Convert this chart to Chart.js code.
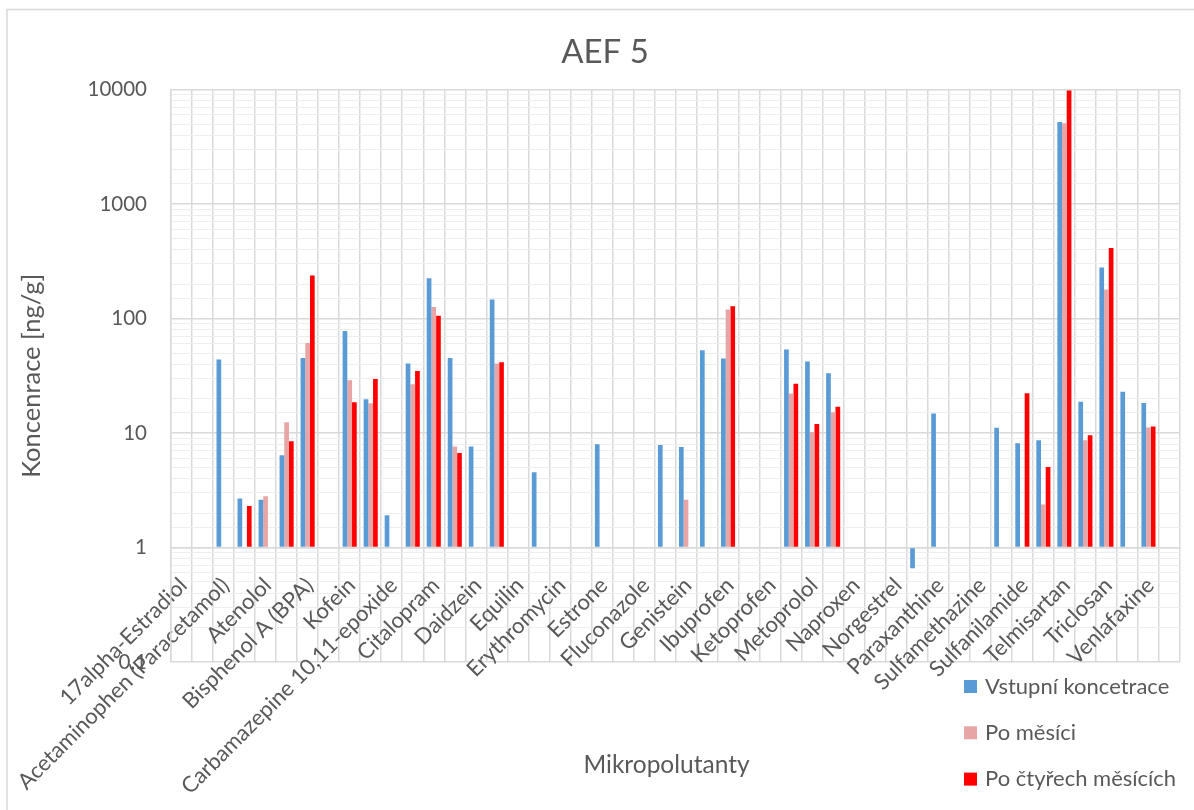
<!DOCTYPE html>
<html>
<head>
<meta charset="utf-8">
<script src="https://cdn.jsdelivr.net/npm/chart.js@4.4.1/dist/chart.umd.min.js"></script>
<style>
  body { margin: 0; background: #fff; }
  #wrap { position: relative; width: 1194px; height: 810px; }
</style>
</head>
<body>
<div id="wrap"><canvas id="chart"></canvas></div>
<script>
// every second category name is hidden in the original (labels skipped), kept empty here
const categories = [
    "17alpha-Estradiol", "", "Acetaminophen (Paracetamol)", "", "Atenolol", "",
    "Bisphenol A (BPA)", "", "Kofein", "", "Carbamazepine 10,11-epoxide", "",
    "Citalopram", "", "Daidzein", "", "Equilin", "", "Erythromycin", "",
    "Estrone", "", "Fluconazole", "", "Genistein", "", "Ibuprofen", "",
    "Ketoprofen", "", "Metoprolol", "", "Naproxen", "", "Norgestrel", "",
    "Paraxanthine", "", "Sulfamethazine", "", "Sulfanilamide", "",
    "Telmisartan", "", "Triclosan", "", "Venlafaxine", ""
];

const vstupni = [
    null, null, 43.8, 2.68, 2.62, 6.4, 45.3, null, 77.7, 19.7,
    1.91, 40.5, 225, 45.3, 7.62, 146.6, null, 4.55, null, null,
    7.98, null, null, 7.87, 7.56, 52.9, 44.8, null, null, 53.6,
    42.1, 33.3, null, null, null, 0.66, 14.8, null, null, 11.1,
    8.15, 8.65, 5210, 18.8, 279, 23.0, 18.3, null
];
const poMesici = [
    null, null, null, null, 2.81, 12.4, 61.2, null, 28.9, 18.2,
    null, 26.7, 126, 7.62, null, 40.5, null, null, null, null,
    null, null, null, null, 2.62, null, 120, null, null, 22.1,
    10.2, 15.2, null, null, null, null, null, null, null, null,
    null, 2.37, 5080, 8.65, 179, null, 11.2, null
];
const poCtyrech = [
    null, null, null, 2.31, null, 8.48, 238, null, 18.6, 29.7,
    null, 34.9, 106, 6.7, null, 41.5, null, null, null, null,
    null, null, null, null, null, null, 128, null, null, 26.9,
    12.0, 17.0, null, null, null, null, null, null, null, null,
    22.3, 5.06, 9800, 9.57, 414, null, 11.4, null
];

const seriesNames = ["Vstupní koncetrace", "Po měsíci", "Po čtyřech měsících"];
const seriesColors = ["#5B9BD5", "#E8A5A5", "#FF0000"];
const yMin = 0.1;
const yMax = 10000;
const xTitle = "Mikropolutanty";
const yTitle = "Koncenrace [ng/g]";

const textColor = "#595959";
const gridMajor = "#d9d9d9";
const gridMinor = "#eeeeee";
const fontFamily = "Lato, 'Open Sans', sans-serif";

function isDecade(v) {
    const l = Math.log10(v);
    return Math.abs(l - Math.round(l)) < 1e-6;
}

// frame, bottom legend and x axis title in the Excel layout
const excelLayout = {
    id: "excelLayout",
    beforeDraw(chart) {
        const ctx = chart.ctx;
        ctx.save();
        ctx.fillStyle = "#fff";
        ctx.fillRect(0, 0, chart.width, chart.height);
        ctx.strokeStyle = gridMajor;
        ctx.lineWidth = 1.5;
        ctx.strokeRect(7, 9.5, chart.width + 50, chart.height + 50);
        ctx.restore();
    },
    afterDraw(chart) {
        const ctx = chart.ctx;
        const area = chart.chartArea;
        ctx.save();
        ctx.fillStyle = textColor;
        ctx.font = "24.5px " + fontFamily;
        ctx.textAlign = "center";
        ctx.textBaseline = "middle";
        ctx.fillText(xTitle, (area.left + area.right) / 2 - 9, 765);

        ctx.textAlign = "left";
        ctx.font = "22px " + fontFamily;
        chart.data.datasets.forEach((ds, i) => {
            const y = 686.5 + i * 46.3;
            ctx.fillStyle = ds.backgroundColor;
            ctx.fillRect(964, y - 6.5, 13, 13);
            ctx.fillStyle = textColor;
            ctx.fillText(ds.label, 985, y);
        });
        ctx.restore();
    }
};

function draw() {
    const ctx = document.getElementById("chart").getContext("2d");
    const values = [vstupni, poMesici, poCtyrech];

    new Chart(ctx, {
        type: "bar",
        data: {
            labels: categories,
            datasets: values.map((data, i) => ({
                label: seriesNames[i],
                data: data,
                backgroundColor: seriesColors[i],
                base: 1,
                categoryPercentage: 0.67,
                barPercentage: 1.0
            }))
        },
        options: {
            responsive: true,
            maintainAspectRatio: false,
            animation: false,
            layout: { padding: { left: 30, right: 14, top: 0, bottom: 148 } },
            plugins: {
                legend: { display: false },
                tooltip: { enabled: true },
                title: {
                    display: true,
                    text: "AEF 5",
                    color: textColor,
                    font: { family: fontFamily, size: 33, weight: "normal" },
                    padding: { top: 33, bottom: 17 }
                }
            },
            scales: {
                x: {
                    type: "category",
                    position: { y: 1 },
                    offset: true,
                    afterFit(scale) {
                        // labels hang below the plot, they should not shrink it
                        scale.paddingLeft = 0;
                        scale.paddingRight = 0;
                    },
                    grid: { color: gridMajor, lineWidth: 1.5, drawTicks: false, offset: true },
                    border: { color: gridMajor, width: 1.5 },
                    ticks: {
                        autoSkip: false,
                        maxRotation: 45,
                        minRotation: 45,
                        padding: 25,
                        labelOffset: 2,
                        color: textColor,
                        font: { family: fontFamily, size: 22 }
                    }
                },
                y: {
                    type: "logarithmic",
                    min: yMin,
                    max: yMax,
                    afterFit(scale) { scale.width = 141; },
                    grid: {
                        drawTicks: false,
                        color: c => (c.tick && isDecade(c.tick.value)) ? gridMajor : gridMinor,
                        lineWidth: c => (c.tick && isDecade(c.tick.value)) ? 1.5 : 1
                    },
                    border: { color: gridMajor, width: 1.5 },
                    ticks: {
                        autoSkip: false,
                        padding: 24,
                        color: textColor,
                        font: { family: fontFamily, size: 20.5 },
                        callback: v => isDecade(v) ? String(v).replace(".", ",") : ""
                    },
                    title: {
                        display: true,
                        text: yTitle,
                        color: textColor,
                        font: { family: fontFamily, size: 25.5, lineHeight: 0.1 },
                        padding: { top: 1, bottom: 0 }
                    }
                }
            }
        },
        plugins: [excelLayout]
    });
}

if (document.fonts && document.fonts.load) {
    Promise.all([document.fonts.load("20px Lato"), document.fonts.load("33px Lato")])
        .then(draw, draw);
} else {
    draw();
}
</script>
</body>
</html>
